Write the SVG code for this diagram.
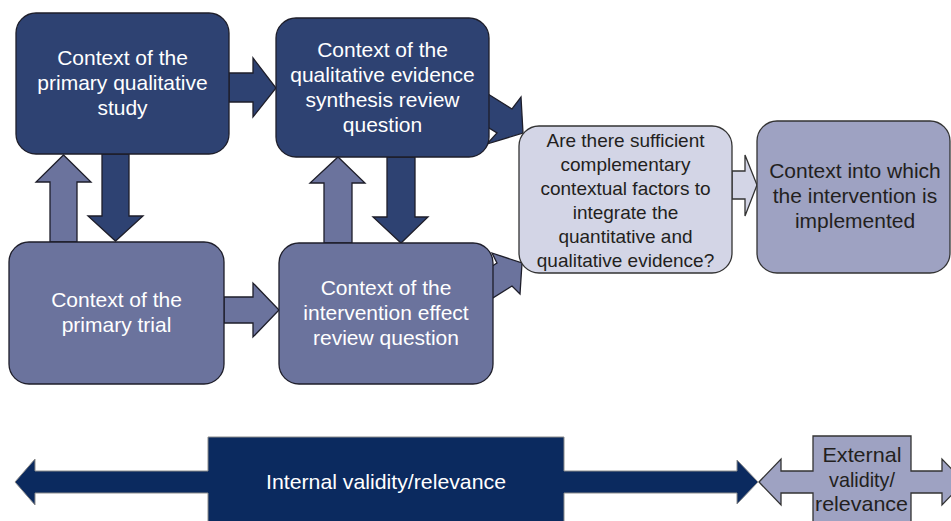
<svg xmlns="http://www.w3.org/2000/svg" width="951" height="521" viewBox="0 0 951 521">
<defs>
<style>
.dark{fill:#2e4272;stroke:#1e1e2a;stroke-width:1.3}
.mid{fill:#6b739d;stroke:#1e1e2a;stroke-width:1.3}
.light{fill:#d3d5e6;stroke:#333;stroke-width:1.3}
.ext{fill:#9ea2c2;stroke:#333;stroke-width:1.3}
.navy{fill:#0b2a5f;stroke:#8a8a8a;stroke-width:1}
text{font-family:"Liberation Sans",Arial,sans-serif;text-anchor:middle}
.w{fill:#ffffff;font-size:21px}
.k{fill:#231f20;font-size:21px}
.k19{fill:#231f20;font-size:19px}
</style>
</defs>
<rect width="951" height="521" fill="#ffffff"/>
<g id="connectors">
<polygon class="dark" points="229,73 253,73 253,58 276,88 253,117 253,102 229,102"/>
<polygon class="dark" points="102,154 129,154 129,216 143,216 115.5,241 88,216 102,216"/>
<polygon class="mid" points="50,242 50,182 36,182 63.5,155 91,182 77,182 77,242"/>
<polygon class="mid" points="224,297 253,297 253,283 279,310 253,337 253,323 224,323"/>
<polygon class="mid" points="324,243 324,183 310,183 338,157 365,183 352,183 352,243"/>
<polygon class="dark" points="387,157 415,157 415,217 428,217 401,243 373,217 387,217"/>
<polygon class="dark" points="464,79 512,109 521,97 523,133 487,144 497,133 473,118"/>
<polygon class="mid" points="473,278 497,263 492,253 522,263 520,294 512,286 464,316"/>
<polygon class="light" points="732,171 745,171 745,155 757,185 745,216 745,199 732,199"/>
</g>
<g id="node-primary-qualitative">
<rect class="dark" x="16" y="13" width="213" height="141" rx="20"/>
<text class="w" x="122.5" y="65">Context of the</text>
<text class="w" x="122.5" y="90">primary qualitative</text>
<text class="w" x="122.5" y="115">study</text>
</g>
<g id="node-qes-question">
<rect class="dark" x="276" y="18" width="213" height="139" rx="20"/>
<text class="w" x="382.5" y="57">Context of the</text>
<text class="w" x="382.5" y="82">qualitative evidence</text>
<text class="w" x="382.5" y="107">synthesis review</text>
<text class="w" x="382.5" y="132">question</text>
</g>
<g id="node-primary-trial">
<rect class="mid" x="9" y="242" width="215" height="142" rx="20"/>
<text class="w" x="116.5" y="307">Context of the</text>
<text class="w" x="116.5" y="332">primary trial</text>
</g>
<g id="node-intervention-question">
<rect class="mid" x="279" y="243" width="214" height="141" rx="20"/>
<text class="w" x="386" y="295">Context of the</text>
<text class="w" x="386" y="320">intervention effect</text>
<text class="w" x="386" y="345">review question</text>
</g>
<g id="node-complementary">
<rect class="light" x="519" y="126" width="213" height="147" rx="20"/>
<text class="k19" x="625.5" y="147">Are there sufficient</text>
<text class="k19" x="625.5" y="171">complementary</text>
<text class="k19" x="625.5" y="195">contextual factors to</text>
<text class="k19" x="625.5" y="219">integrate the</text>
<text class="k19" x="625.5" y="243">quantitative and</text>
<text class="k19" x="625.5" y="267">qualitative evidence?</text>
</g>
<g id="node-implementation-context">
<rect class="ext" x="757" y="121" width="193" height="152" rx="20"/>
<text class="k" x="855" y="178">Context into which</text>
<text class="k" x="855" y="203">the intervention is</text>
<text class="k" x="855" y="228">implemented</text>
</g>
<g id="node-internal-validity">
<polygon class="navy" points="15,482 35,459 35,471 208,471 208,437 564,437 564,471 737,471 737,460 758,482 737,504 737,493 564,493 564,523 208,523 208,493 35,493 35,505"/>
<text class="w" x="386" y="489" font-size="20" textLength="240" lengthAdjust="spacingAndGlyphs">Internal validity/relevance</text>
</g>
<g id="node-external-validity">
<polygon class="ext" points="759,482 781,459 781,471 813,471 813,436 911,436 911,471 942,471 942,459 964,482 942,505 942,493 911,493 911,523 813,523 813,493 781,493 781,505"/>
<text class="k" x="862" y="462" font-size="21" textLength="79" lengthAdjust="spacingAndGlyphs">External</text>
<text class="k" x="862" y="487" font-size="21" textLength="66" lengthAdjust="spacingAndGlyphs">validity/</text>
<text class="k" x="861.5" y="511" font-size="21" textLength="93" lengthAdjust="spacingAndGlyphs">relevance</text>
</g>
</svg>
